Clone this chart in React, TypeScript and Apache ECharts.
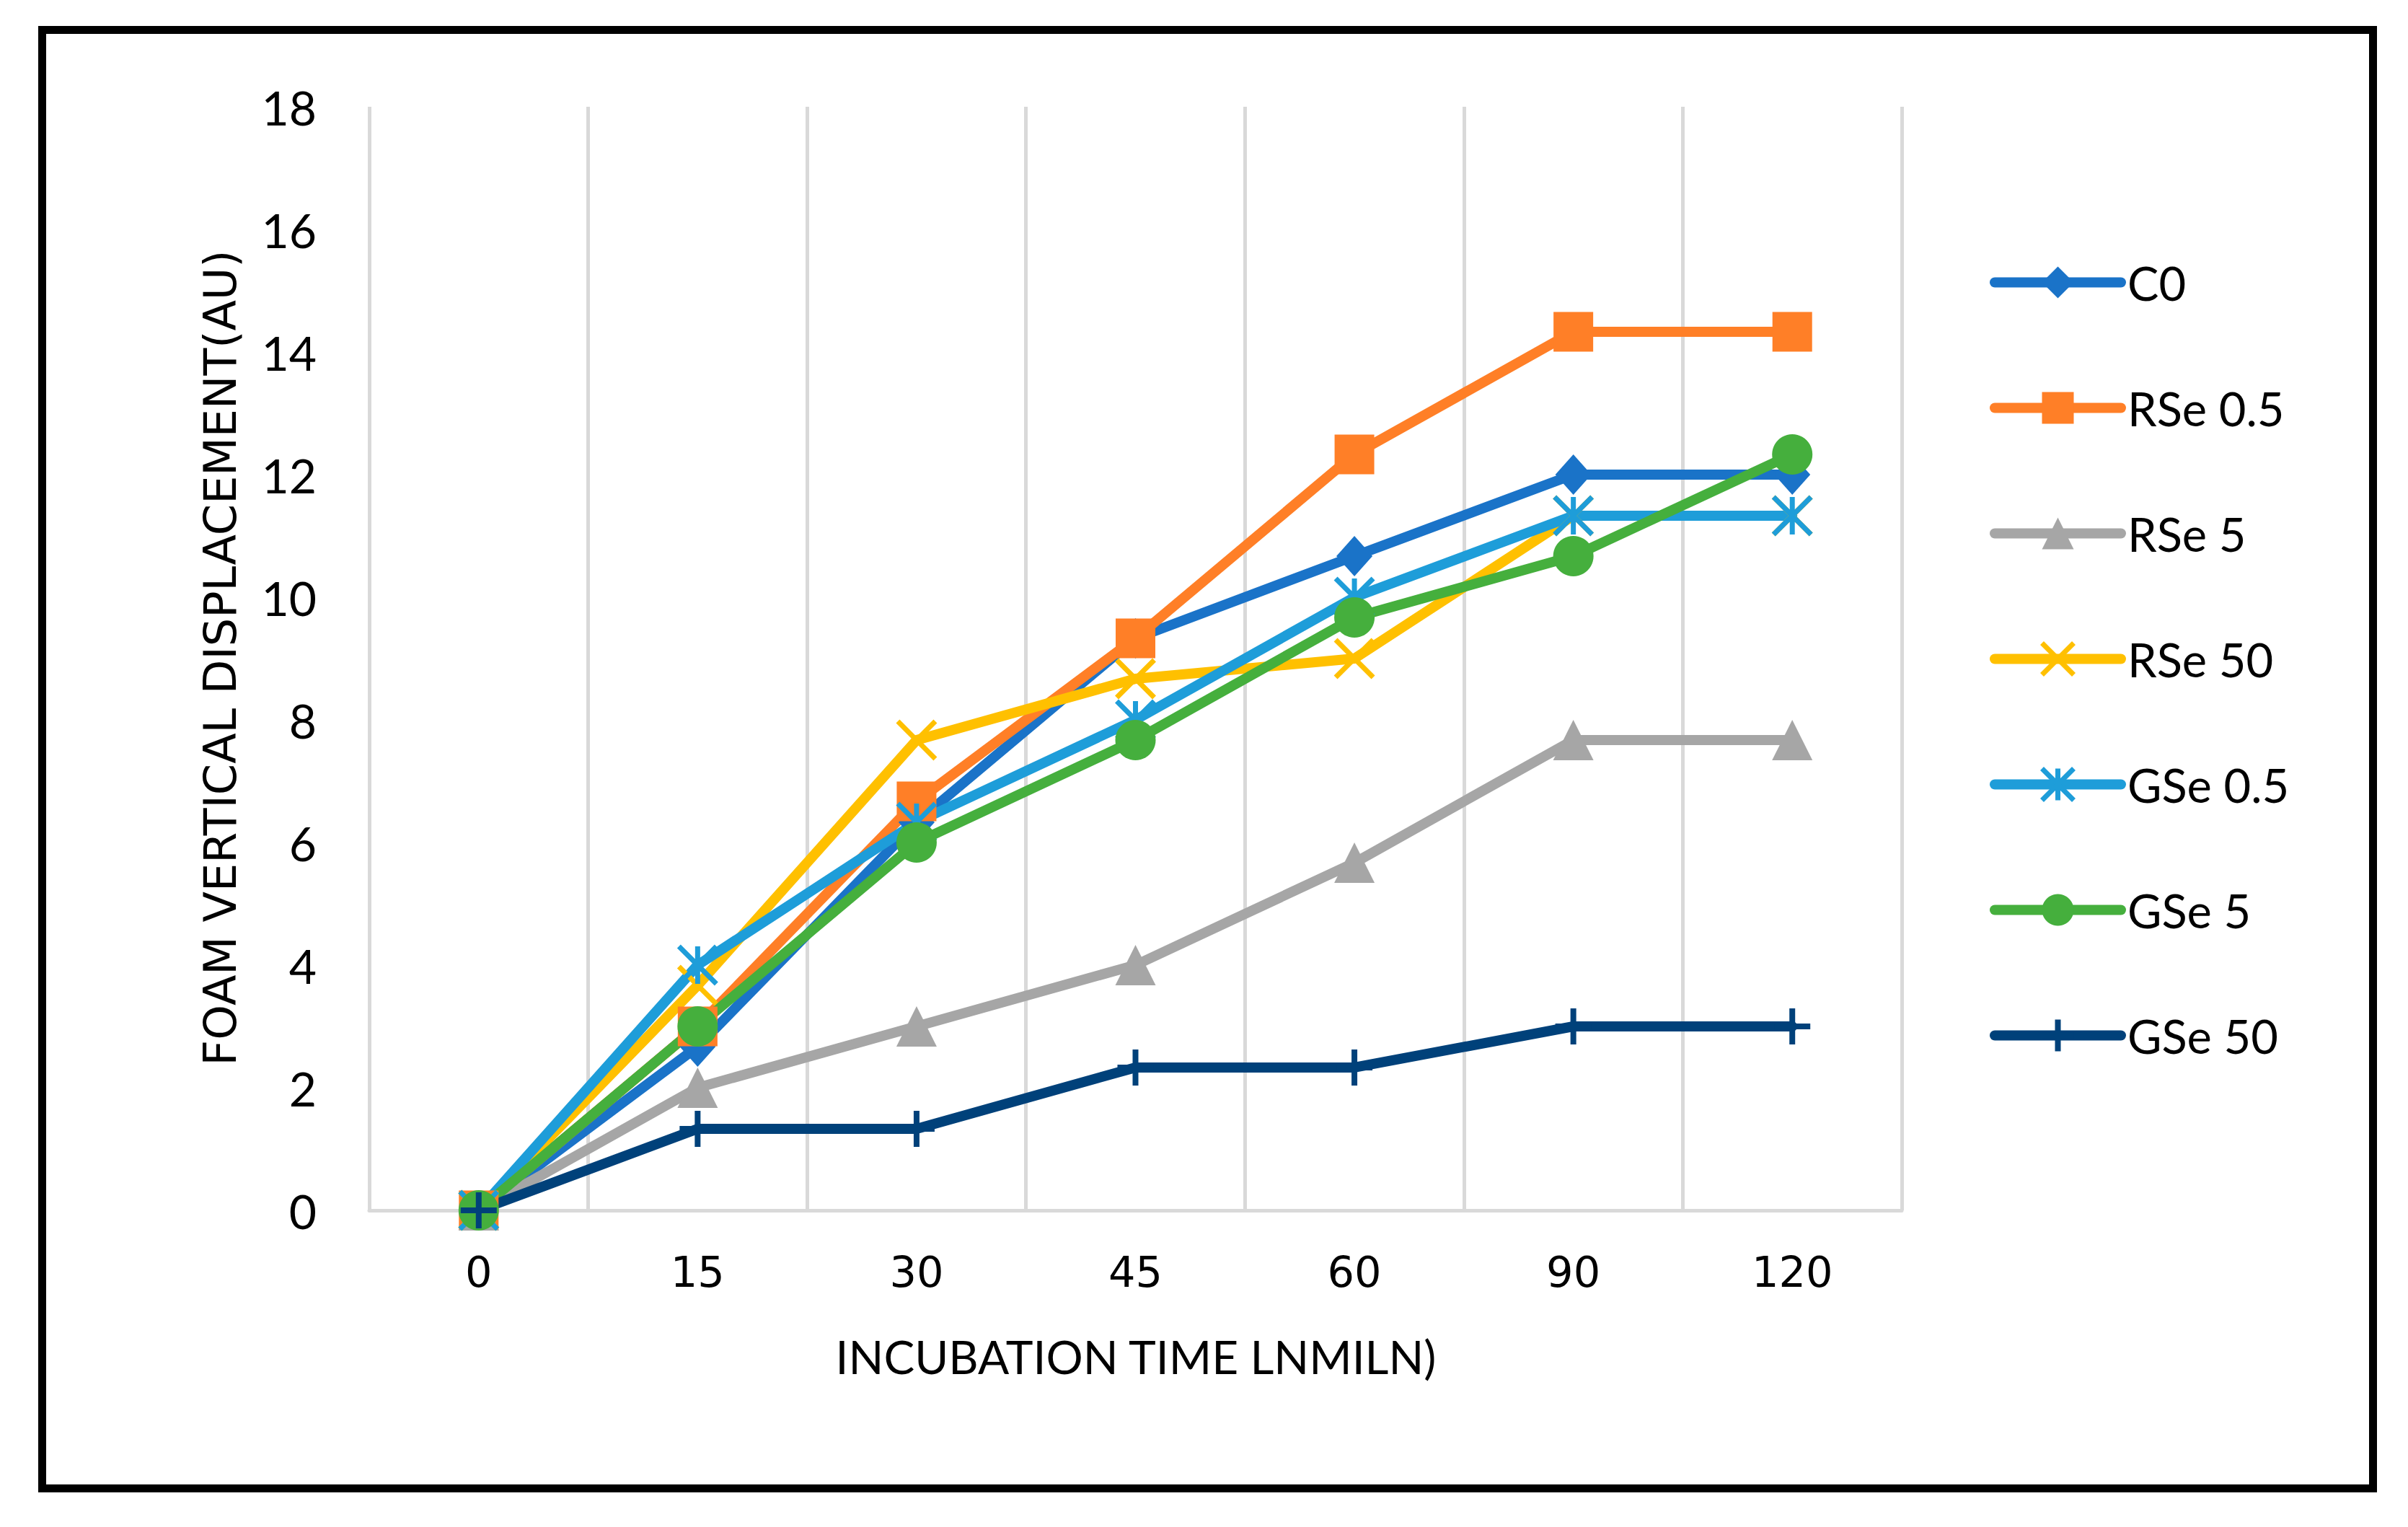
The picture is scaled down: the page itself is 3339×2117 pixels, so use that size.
import React, { useEffect, useRef } from "react";
import * as echarts from "echarts";

const categories = ["0", "15", "30", "45", "60", "90", "120"];
const c0 = [0, 2.67, 6.33, 9.33, 10.67, 12, 12];
const rse05 = [0, 3, 6.67, 9.33, 12.33, 14.33, 14.33];
const rse5 = [0, 2, 3, 4, 5.67, 7.67, 7.67];
const rse50 = [0, 3.67, 7.67, 8.67, 9, 11.33, 11.33];
const gse05 = [0, 4, 6.33, 8, 10, 11.33, 11.33];
const gse5 = [0, 3, 6, 7.67, 9.67, 10.67, 12.33];
const gse50 = [0, 1.33, 1.33, 2.33, 2.33, 3, 3];
const legendNames = ["C0", "RSe 0.5", "RSe 5", "RSe 50", "GSe 0.5", "GSe 5", "GSe 50"];

const X_PATH = "path://M0 0L10 10M10 0L0 10";
const STAR_PATH = "path://M5 0L5 10M0 0L10 10M10 0L0 10";
const PLUS_PATH = "path://M5 0L5 10M0 5L10 5";

export default function App() {
  const ref = useRef<HTMLDivElement>(null);
  useEffect(() => {
    if (!ref.current) return;
    const chart = echarts.init(ref.current, null, { renderer: "svg" });
    const lw = 14;
    const strokeOf: Record<string, number> = { "RSe 50": 7, "GSe 0.5": 7, "GSe 50": 8 };
    const mk = (
      name: string,
      data: number[],
      color: string,
      symbol: string,
      size: any
    ) => {
      const stroke = strokeOf[name] || 0;
      return {
        name,
        type: "line",
        data,
        symbol,
        symbolSize: size,
        symbolKeepAspect: false,
        showAllSymbol: true,
        color,
        lineStyle: { width: lw, color, cap: "round", join: "round" },
        itemStyle: stroke
          ? { color, borderColor: color, borderWidth: stroke }
          : { color, borderWidth: 0 },
        emphasis: { disabled: true },
      };
    };
    chart.setOption({
      animation: false,
      backgroundColor: "#ffffff",
      grid: { left: 512, right: 702, top: 148, bottom: 439, containLabel: false },
      xAxis: {
        type: "category",
        data: categories,
        boundaryGap: true,
        axisLine: { show: true, lineStyle: { color: "#D9D9D9", width: 5 } },
        axisTick: { show: false },
        splitLine: { show: true, lineStyle: { color: "#D9D9D9", width: 5 } },
        axisLabel: {
          color: "#000",
          fontFamily: "DejaVu Sans",
          fontSize: 59,
          margin: 56,
          interval: 0,
        },
      },
      yAxis: {
        type: "value",
        min: 0,
        max: 18,
        interval: 2,
        axisLine: { show: false },
        axisTick: { show: false },
        splitLine: { show: false },
        axisLabel: {
          color: "#000",
          fontFamily: "Lato",
          fontSize: 66,
          margin: 73,
        },
      },
      legend: {
        orient: "vertical",
        left: 2759,
        top: 359,
        padding: 0,
        itemWidth: 175,
        itemHeight: 55,
        itemGap: 109,
        selectedMode: false,
        lineStyle: { width: lw, cap: "round" },
        textStyle: {
          color: "#000",
          fontFamily: "Lato",
          fontSize: 65,
          lineHeight: 55,
          padding: [0, 0, 0, 4],
        },
        data: legendNames.map((n) =>
          strokeOf[n] ? { name: n, itemStyle: { borderWidth: strokeOf[n] } } : { name: n }
        ),
      },
      graphic: [
        {
          type: "rect",
          shape: { x: 58.5, y: 41.5, width: 3232, height: 2022 },
          style: { fill: "none", stroke: "#000", lineWidth: 11 },
          silent: true,
        },
        {
          type: "text",
          x: 1575,
          y: 1880,
          style: {
            text: "INCUBATION TIME LNMILN)",
            fontFamily: "Lato",
            fontSize: 64,
            fill: "#000",
            align: "center",
            verticalAlign: "middle",
          },
        },
        {
          type: "text",
          x: 305,
          y: 912,
          rotation: Math.PI / 2,
          style: {
            text: "FOAM VERTICAL DISPLACEMENT(AU)",
            fontFamily: "DejaVu Sans",
            fontSize: 62,
            fill: "#000",
            align: "center",
            verticalAlign: "middle",
          },
        },
      ],
      series: [
        mk("C0", c0, "#1A73C8", "diamond", [50, 56]),
        mk("RSe 0.5", rse05, "#FF7F27", "rect", 55),
        mk("RSe 5", rse5, "#A6A6A6", "triangle", 56),
        mk("RSe 50", rse50, "#FFC000", X_PATH, 52),
        mk("GSe 0.5", gse05, "#1E9DD9", STAR_PATH, 52),
        mk("GSe 5", gse5, "#45AF3D", "circle", 56),
        mk("GSe 50", gse50, "#00417A", PLUS_PATH, 50),
      ],
    });
    return () => chart.dispose();
  }, []);
  return (
    <div
      ref={ref}
      style={{ position: "fixed", left: 0, top: 0, width: "3339px", height: "2117px" }}
    />
  );
}
